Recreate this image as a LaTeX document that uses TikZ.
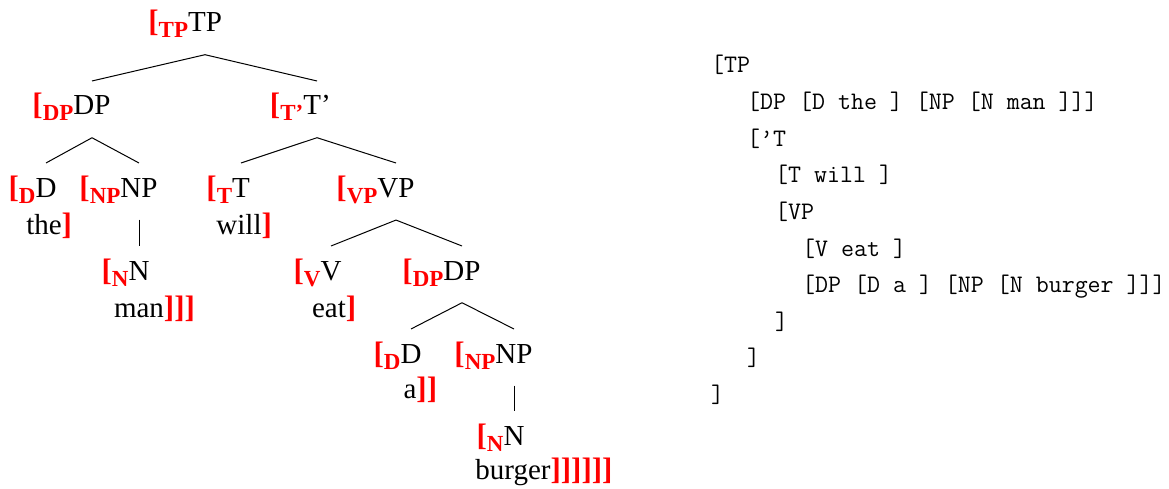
\documentclass[tikz,border=0pt]{standalone}
\usepackage{fontspec}
\setmainfont{Liberation Serif}
\newcommand\lbk[1]{\llap{\textcolor{red}{\bfseries\fontsize{31}{31}\selectfont[\raisebox{-6pt}{\fontsize{23}{23}\selectfont #1}}}}
\newcommand\rbk[1]{\rlap{\textcolor{red}{\bfseries\fontsize{31}{31}\selectfont #1}}}
\begin{document}
\begin{tikzpicture}[x=1pt,y=-1pt,
  tn/.style={inner sep=0pt, anchor=base, font=\fontsize{29}{34}\selectfont},
  code/.style={inner sep=0pt, anchor=base west, font=\ttfamily\fontsize{25.2}{30}\selectfont},
  edge/.style={line width=1pt, black}]
\useasboundingbox (0,0) rectangle (1169,489);
% tree nodes
\node[tn] (tp) at (205,32) {\lbk{TP}TP};
\node[tn] (dp) at (92,115) {\lbk{DP}DP};
\node[tn] (tbar) at (317,115) {\lbk{T’}T’};
\node[tn] (d) at (46,197) {\lbk{D}D};
\node[tn] (the) at (44,234) {the\rbk{]}};
\node[tn] (np) at (139,197) {\lbk{NP}NP};
\node[tn] (n) at (139,280) {\lbk{N}N};
\node[tn] (man) at (139,317) {man\rbk{]]]}};
\node[tn] (t) at (241,197) {\lbk{T}T};
\node[tn] (will) at (239,234) {will\rbk{]}};
\node[tn] (vp) at (396,197) {\lbk{VP}VP};
\node[tn] (v) at (331,280) {\lbk{V}V};
\node[tn] (eat) at (329,317) {eat\rbk{]}};
\node[tn] (dpb) at (462,280) {\lbk{DP}DP};
\node[tn] (db) at (411,363) {\lbk{D}D};
\node[tn] (a) at (410,398) {a\rbk{]]}};
\node[tn] (npb) at (514,363) {\lbk{NP}NP};
\node[tn] (nb) at (514,445) {\lbk{N}N};
\node[tn] (burger) at (513,479) {burger\rbk{]]]]]]}};
% edges
\foreach \p/\c in {tp/dp, tp/tbar, dp/d, dp/np, tbar/t, tbar/vp, np/n, vp/v, vp/dpb, dpb/db, dpb/npb, npb/nb}
  \draw[edge] ([yshift=-16.5pt]\p.south) -- ([yshift=12.3pt]\c.north);
% bracket notation
\node[code] (c1) at (711,73) {[TP};
\node[code] (c2) at (747,109.6) {[DP [D the ] [NP [N man ]]]};
\node[code] (c3) at (747,146.2) {[’T};
\node[code] (c4) at (775,182.8) {[T will ]};
\node[code] (c5) at (775,219.4) {[VP};
\node[code] (c6) at (802,256) {[V eat ]};
\node[code] (c7) at (802,292.6) {[DP [D a ] [NP [N burger ]]]};
\node[code] (c8) at (775,329.2) {]};
\node[code] (c9) at (747,365.8) {]};
\node[code] (c10) at (711,402.4) {]};
\end{tikzpicture}
\end{document}
